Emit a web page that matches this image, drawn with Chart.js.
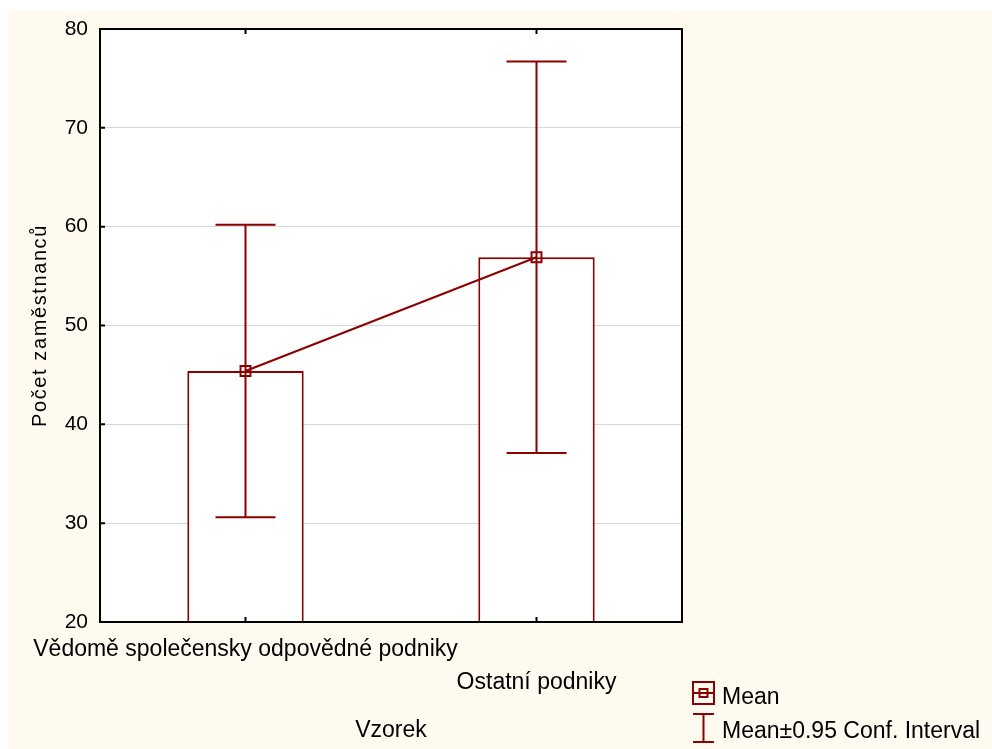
<!DOCTYPE html>
<html>
<head>
<meta charset="utf-8">
<script src="https://cdn.jsdelivr.net/npm/chart.js@4.4.0/dist/chart.umd.min.js"></script>
<style>
  html, body { margin: 0; padding: 0; background: #fff; }
  #wrap { position: absolute; left: 8px; top: 10px; width: 984px; height: 739px; background: #fffaf0; }
</style>
</head>
<body>
<div id="wrap"><canvas id="myChart" width="984" height="739"></canvas></div>
<script>
var categories = ["Vědomě společensky odpovědné podniky", "Ostatní podniky"];
var means = [45.4, 56.9];
var ciLow = [30.6, 37.1];
var ciHigh = [60.2, 76.7];
var yTicks = [20, 30, 40, 50, 60, 70, 80];
var yTitle = "Počet zaměstnanců";

var RED = "#8b0000";

// white plot area, frame, inward ticks, error bars, legend
var statPlugin = {
  id: "stat",
  beforeDraw: function (chart) {
    var a = chart.chartArea, ctx = chart.ctx;
    ctx.save();
    ctx.fillStyle = "#fff";
    ctx.fillRect(a.left, a.top, a.right - a.left, a.bottom - a.top);
    ctx.restore();
  },
  afterDatasetsDraw: function (chart) {
    var a = chart.chartArea, ctx = chart.ctx;
    var xs = chart.scales.x, ys = chart.scales.y;
    ctx.save();
    // error bars
    ctx.strokeStyle = RED;
    ctx.lineWidth = 2;
    for (var i = 0; i < categories.length; i++) {
      var x = xs.getPixelForValue(i);
      var yl = ys.getPixelForValue(ciLow[i]), yh = ys.getPixelForValue(ciHigh[i]);
      ctx.beginPath();
      ctx.moveTo(x, yl); ctx.lineTo(x, yh);
      ctx.moveTo(x - 30, yl); ctx.lineTo(x + 30, yl);
      ctx.moveTo(x - 30, yh); ctx.lineTo(x + 30, yh);
      ctx.stroke();
    }
    // frame
    ctx.strokeStyle = "#000";
    ctx.lineWidth = 2;
    ctx.strokeRect(a.left, a.top, a.right - a.left, a.bottom - a.top);
    ctx.beginPath();
    yTicks.forEach(function (v) {
      var y = ys.getPixelForValue(v);
      ctx.moveTo(a.left, y); ctx.lineTo(a.left + 5, y);
    });
    for (var j = 0; j < categories.length; j++) {
      var cx = xs.getPixelForValue(j);
      ctx.moveTo(cx, a.top); ctx.lineTo(cx, a.top + 5);
      ctx.moveTo(cx, a.bottom); ctx.lineTo(cx, a.bottom - 5);
    }
    ctx.stroke();
    ctx.restore();
  },
  afterDraw: function (chart) {
    var a = chart.chartArea, ctx = chart.ctx;
    ctx.save();
    // y axis title, letter spaced
    ctx.translate(32, (a.top + a.bottom) / 2);
    ctx.rotate(-Math.PI / 2);
    ctx.fillStyle = "#000";
    ctx.font = "20px 'Liberation Sans', Arial, sans-serif";
    ctx.letterSpacing = "1.6px";
    ctx.textAlign = "center";
    ctx.textBaseline = "middle";
    ctx.fillText(yTitle, 0, 0);
    ctx.restore();

    var lx = a.right + 11, ly1 = a.bottom + 71, ly2 = a.bottom + 106;
    ctx.save();
    ctx.strokeStyle = RED;
    ctx.lineWidth = 2;
    // mean icon
    ctx.strokeRect(lx, ly1 - 11, 21, 22);
    ctx.strokeRect(lx + 6.5, ly1 - 4, 8, 8);
    ctx.beginPath();
    ctx.moveTo(lx, ly1); ctx.lineTo(lx + 21, ly1);
    ctx.stroke();
    // CI icon
    ctx.beginPath();
    ctx.moveTo(lx + 10.5, ly2 - 14); ctx.lineTo(lx + 10.5, ly2 + 14);
    ctx.moveTo(lx, ly2 - 14); ctx.lineTo(lx + 21, ly2 - 14);
    ctx.moveTo(lx, ly2 + 14); ctx.lineTo(lx + 21, ly2 + 14);
    ctx.stroke();
    ctx.fillStyle = "#000";
    ctx.font = "23px 'Liberation Sans', Arial, sans-serif";
    ctx.textBaseline = "middle";
    ctx.fillText("Mean", lx + 29, ly1 + 5);
    ctx.fillText("Mean±0.95 Conf. Interval", lx + 29, ly2 + 4);
    ctx.restore();
  }
};

var chart = new Chart(document.getElementById("myChart"), {
  data: {
    labels: categories,
    datasets: [
      {
        type: "line",
        data: means,
        borderColor: RED,
        borderWidth: 2,
        pointStyle: "rect",
        pointRadius: 7,
        pointBorderWidth: 2,
        pointBackgroundColor: "rgba(0,0,0,0)",
        pointBorderColor: RED,
        order: 0
      },
      {
        type: "bar",
        data: means,
        backgroundColor: "#fff",
        borderColor: RED,
        borderWidth: 2,
        borderSkipped: false,
        categoryPercentage: 1,
        barPercentage: 0.4,
        order: 1
      }
    ]
  },
  options: {
    responsive: false,
    animation: false,
    layout: { padding: { left: 0, right: 310, top: 19, bottom: 0 } },
    plugins: { legend: { display: false }, tooltip: { enabled: false } },
    scales: {
      x: {
        offset: true,
        grid: { display: false },
        border: { display: false },
        ticks: {
          color: "#000",
          autoSkip: false,
          maxRotation: 0,
          padding: 4,
          font: { family: "'Liberation Sans', Arial", size: 23, lineHeight: 1.4 },
          callback: function (v, i) { return i % 2 ? ["", categories[i]] : categories[i]; }
        },
        title: {
          display: true,
          text: "Vzorek",
          color: "#000",
          font: { family: "'Liberation Sans', Arial", size: 23 },
          padding: { top: 0, bottom: 5 }
        },
        afterFit: function (s) { s.height = 127; s.paddingLeft = 0; s.paddingRight = 0; }
      },
      y: {
        min: 20,
        max: 80,
        grid: { color: "#d8d8d8", drawTicks: false },
        border: { display: false },
        ticks: {
          stepSize: 10,
          color: "#000",
          padding: 12,
          font: { family: "'Liberation Sans', Arial", size: 21 }
        },
        title: { display: false },
        afterFit: function (s) { s.width = 92; s.paddingTop = 0; s.paddingBottom = 0; }
      }
    }
  },
  plugins: [statPlugin]
});
</script>
</body>
</html>
